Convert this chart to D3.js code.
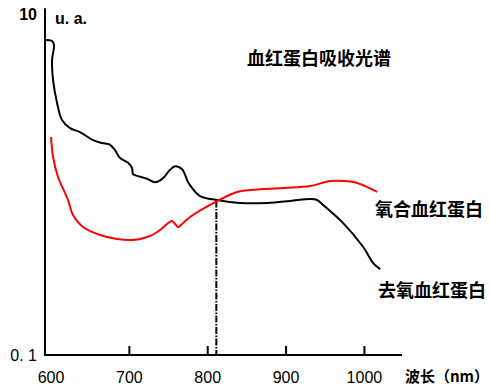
<!DOCTYPE html>
<html><head><meta charset="utf-8">
<script src="https://cdn.jsdelivr.net/npm/d3@7"></script>
<style>body{margin:0;background:#fff}svg{display:block}</style>
</head><body>
<svg id="c" width="490" height="387"></svg>
<script>
// Deoxyhemoglobin (去氧血红蛋白) absorption: [wavelength nm, value a.u.]
const deoxyWavelength = [592.3,601.3,603.8,601.3,602.6,607.7,614.0,624.3,637.0,653.6,665.1,675.4,681.7,688.1,698.3,703.4,704.7,711.1,722.6,732.8,743.0,752.0,758.4,767.3,775.0,780.1,790.3,812.0,841.4,875.9,905.2,930.8,939.7,947.4,972.9,998.5,1011.2,1020.2];
const deoxyValue = [7.04,6.94,6.58,5.37,4.10,3.01,2.39,2.14,2.03,1.82,1.75,1.71,1.59,1.43,1.34,1.25,1.15,1.12,1.08,1.03,1.09,1.22,1.28,1.23,1.03,0.954,0.856,0.811,0.779,0.779,0.800,0.822,0.811,0.758,0.594,0.430,0.346,0.319];
// Oxyhemoglobin (氧合血红蛋白)
const oxyWavelength = [600.0,602.6,608.9,617.9,621.7,628.1,640.9,662.6,684.3,704.7,726.4,739.2,748.1,754.5,758.4,762.2,768.6,777.5,812.0,837.5,854.2,896.3,930.8,956.3,972.9,990.8,1016.3];
const oxyValue = [1.90,1.45,1.106,0.891,0.811,0.662,0.563,0.506,0.479,0.473,0.499,0.541,0.587,0.611,0.587,0.563,0.594,0.645,0.800,0.904,0.928,0.954,0.980,1.048,1.048,1.020,0.904];
const xTicks = [700, 800, 900, 1000];
const xTickLabels = [600, 700, 800, 900, 1000];
const yTickLabels = [{v:10, t:"10"}, {v:0.1, t:"0. 1"}];
const isosbestic = 811;
const title = "血红蛋白吸收光谱";
const oxyName = "氧合血红蛋白";
const deoxyName = "去氧血红蛋白";
const xName = "波长（nm）";
const yUnit = "u. a.";

const svg = d3.select("#c");
const x = d3.scaleLinear().domain([592.3, 1048]).range([45, 402]);
const y = d3.scaleLog().domain([0.1, 10]).range([355, 14]);
const yTop = 10.8;

const line = d3.line().x(d => x(d[0])).y(d => y(d[1])).curve(d3.curveCatmullRom.alpha(0.5));
const deoxy = deoxyWavelength.map((w,i)=>[w, deoxyValue[i]]);
const oxy = oxyWavelength.map((w,i)=>[w, oxyValue[i]]);

// isosbestic dash-dot line
const isoVal = 0.806;
svg.append("line").attr("x1", x(isosbestic)).attr("x2", x(isosbestic))
  .attr("y1", y(isoVal)).attr("y2", y(0.1))
  .attr("stroke", "#000").attr("stroke-width", 2)
  .attr("stroke-dasharray", "7,1.5,1.5,1.5");

svg.append("path").attr("d", line(deoxy)).attr("fill","none").attr("stroke","#000").attr("stroke-width",2);
svg.append("path").attr("d", line(oxy)).attr("fill","none").attr("stroke","#ff0000").attr("stroke-width",2);

// axes
svg.append("line").attr("x1", x.range()[0]).attr("x2", x.range()[0]).attr("y1", y(0.1)).attr("y2", y(yTop))
  .attr("stroke","#000").attr("stroke-width",2);
svg.append("line").attr("x1", x.range()[0]-1).attr("x2", x.range()[1]).attr("y1", y(0.1)).attr("y2", y(0.1))
  .attr("stroke","#000").attr("stroke-width",2);
svg.selectAll(".tk").data(xTicks).enter().append("line")
  .attr("x1", d=>x(d)).attr("x2", d=>x(d)).attr("y1", y(0.1)).attr("y2", y(0.1)-9)
  .attr("stroke","#000").attr("stroke-width",2);

const numFont = "'Liberation Sans', Arial, sans-serif";
svg.selectAll(".tl").data(xTickLabels).enter().append("text")
  .attr("x", d=>x(d)).attr("y", 383).attr("text-anchor","middle")
  .attr("font-family", numFont).attr("font-size", 16).attr("fill","#000").text(d=>d);
svg.selectAll(".yl").data(yTickLabels).enter().append("text")
  .attr("x", 37).attr("y", d=>y(d.v)+6).attr("text-anchor","end")
  .attr("font-family", numFont).attr("font-size", 16).attr("font-weight", d=>d.v===10?"bold":"normal").attr("fill","#000").text(d=>d.t);
svg.append("text").attr("x", 55).attr("y", 24).attr("font-family", numFont).attr("font-size", 16).attr("font-weight","bold").text(yUnit);

const cjk = "'Noto Sans CJK SC', sans-serif";
svg.append("text").attr("x", 247).attr("y", 65).attr("font-family", cjk).attr("font-size", 18).attr("font-weight", "bold").text(title);
svg.append("text").attr("x", 375).attr("y", 216).attr("font-family", cjk).attr("font-size", 18).attr("font-weight", "bold").text(oxyName);
svg.append("text").attr("x", 378).attr("y", 297).attr("font-family", cjk).attr("font-size", 18).attr("font-weight", "bold").text(deoxyName);
svg.append("text").attr("x", 405).attr("y", 382).attr("font-family", cjk).attr("font-size", 15).attr("font-weight", "bold").text(xName);
</script>
</body></html>
